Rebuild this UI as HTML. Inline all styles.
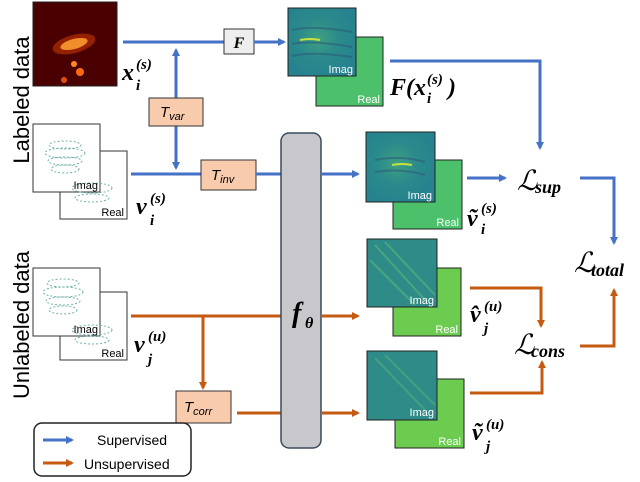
<!DOCTYPE html>
<html><head><meta charset="utf-8"><style>
html,body{margin:0;padding:0;background:#fff;}
svg{display:block;font-family:"Liberation Serif",serif;}
.m{font-family:"Liberation Serif",serif;font-style:italic;font-weight:bold;}
.s{font-family:"Liberation Sans",sans-serif;}
</style></head><body>
<svg width="640" height="482" viewBox="0 0 640 482" xmlns="http://www.w3.org/2000/svg">
<defs>
<marker id="ab" markerWidth="8" markerHeight="8" refX="6" refY="4" orient="auto" markerUnits="userSpaceOnUse"><path d="M0,0 L8,4 L0,8 Z" fill="#4472c4"/></marker>
<marker id="ao" markerWidth="8" markerHeight="8" refX="6" refY="4" orient="auto" markerUnits="userSpaceOnUse"><path d="M0,0 L8,4 L0,8 Z" fill="#c55a11"/></marker>
<radialGradient id="tl" cx="0.45" cy="0.45" r="0.6"><stop offset="0" stop-color="#3fa080"/><stop offset="0.5" stop-color="#2a8a8c"/><stop offset="1" stop-color="#26828e"/></radialGradient>
</defs>
<text class="s" x="0" y="0" font-size="22" transform="translate(29,100) rotate(-90)" text-anchor="middle">Labeled data</text>
<text class="s" x="0" y="0" font-size="22" transform="translate(29,325) rotate(-90)" text-anchor="middle">Unlabeled data</text>
<rect x="33" y="2" width="84" height="84" fill="#4a0000" stroke="#222"/>
<ellipse cx="74" cy="44" rx="14" ry="5" fill="#ffdd55" transform="rotate(-15 74 44)"/>
<ellipse cx="74" cy="44" rx="22" ry="9" fill="#e04000" opacity="0.5" transform="rotate(-15 74 44)"/>
<circle cx="74" cy="64" r="3" fill="#ff8a20"/><circle cx="80" cy="72" r="4" fill="#ff6a10"/><circle cx="64" cy="80" r="3" fill="#e05010"/>
<text class="m" x="122" y="80" font-size="24">x</text><text class="m" x="136" y="69" font-size="15">(s)</text><text class="m" x="136" y="90" font-size="15">i</text>
<line x1="123" y1="42" x2="224" y2="42" stroke="#4472c4" stroke-width="3"/>
<rect x="224" y="29" width="30" height="25" fill="#eeeeee" stroke="#333"/>
<text class="m" x="239" y="48" font-size="16" text-anchor="middle">F</text>
<line x1="254" y1="42" x2="284" y2="42" stroke="#4472c4" stroke-width="3" marker-end="url(#ab)"/>
<line x1="176" y1="98" x2="176" y2="50" stroke="#4472c4" stroke-width="3" marker-end="url(#ab)"/>
<line x1="176" y1="125" x2="176" y2="168" stroke="#4472c4" stroke-width="3" marker-end="url(#ab)"/>
<rect x="149" y="98" width="54" height="28" fill="#f8cbad" stroke="#333"/>
<text class="s" x="160" y="117" font-size="15" font-style="italic">T<tspan font-size="11" dy="3">var</tspan></text>
<rect x="60" y="151" width="67" height="68" fill="#fff" stroke="#333"/>
<text class="s" x="124" y="216" font-size="11" text-anchor="end">Real</text>
<rect x="33" y="124" width="67" height="68" fill="#fff" stroke="#333"/>
<g fill="none" stroke="#6fb0a8" stroke-width="1" stroke-dasharray="2 2">
<ellipse cx="65" cy="145" rx="16" ry="4"/><ellipse cx="65" cy="153" rx="20" ry="5"/><ellipse cx="65" cy="161" rx="17" ry="4"/><ellipse cx="65" cy="169" rx="14" ry="4"/>
<ellipse cx="92" cy="188" rx="20" ry="5"/><ellipse cx="92" cy="198" rx="17" ry="4"/></g>
<text class="s" x="98" y="189" font-size="11" text-anchor="end">Imag</text>
<text class="m" x="136" y="214" font-size="24">v</text><text class="m" x="150" y="203" font-size="15">(s)</text><text class="m" x="150" y="225" font-size="15">i</text>
<line x1="131" y1="174" x2="201" y2="174" stroke="#4472c4" stroke-width="3"/>
<rect x="201" y="160" width="55" height="30" fill="#f8cbad" stroke="#333"/>
<text class="s" x="211" y="180" font-size="15" font-style="italic">T<tspan font-size="11" dy="3">inv</tspan></text>
<line x1="256" y1="174" x2="282" y2="174" stroke="#4472c4" stroke-width="3"/>
<line x1="322" y1="174" x2="358" y2="174" stroke="#4472c4" stroke-width="3" marker-end="url(#ab)"/>
<rect x="60" y="292" width="67" height="68" fill="#fff" stroke="#333"/>
<text class="s" x="124" y="357" font-size="11" text-anchor="end">Real</text>
<rect x="33" y="268" width="67" height="68" fill="#fff" stroke="#333"/>
<g fill="none" stroke="#6fb0a8" stroke-width="1" stroke-dasharray="2 2">
<ellipse cx="63" cy="283" rx="16" ry="4"/><ellipse cx="63" cy="292" rx="20" ry="5"/><ellipse cx="63" cy="301" rx="17" ry="4"/><ellipse cx="63" cy="310" rx="14" ry="4"/>
<ellipse cx="92" cy="330" rx="20" ry="5"/><ellipse cx="92" cy="340" rx="17" ry="4"/></g>
<text class="s" x="98" y="333" font-size="11" text-anchor="end">Imag</text>
<text class="m" x="134" y="352" font-size="24">v</text><text class="m" x="148" y="341" font-size="15">(u)</text><text class="m" x="148" y="364" font-size="15">j</text>
<line x1="131" y1="316" x2="282" y2="316" stroke="#c55a11" stroke-width="3"/>
<line x1="322" y1="316" x2="358" y2="316" stroke="#c55a11" stroke-width="3" marker-end="url(#ao)"/>
<line x1="203" y1="316" x2="203" y2="388" stroke="#c55a11" stroke-width="3" marker-end="url(#ao)"/>
<rect x="176" y="391" width="55" height="32" fill="#f8cbad" stroke="#333"/>
<text class="s" x="184" y="412" font-size="15" font-style="italic">T<tspan font-size="11" dy="3">corr</tspan></text>
<line x1="237" y1="413" x2="282" y2="413" stroke="#c55a11" stroke-width="3"/>
<line x1="322" y1="413" x2="358" y2="413" stroke="#c55a11" stroke-width="3" marker-end="url(#ao)"/>
<rect x="281" y="133" width="40" height="315" rx="8" fill="#c8c8cc" stroke="#3a4a5e" stroke-width="1.5"/>
<text class="m" x="292" y="322" font-size="28">f</text><text class="m" x="305" y="328" font-size="16">θ</text>
<rect x="316" y="37" width="67" height="69" fill="#4cc06a" stroke="#222"/>
<text class="s" x="380" y="103" font-size="11" fill="#fff" text-anchor="end">Real</text>
<rect x="288" y="8" width="68" height="68" fill="url(#tl)" stroke="#222"/>
<g stroke="#2d5d7a" stroke-width="2" fill="none" opacity="0.6"><path d="M292 30 q20 -5 60 2"/><path d="M292 44 q20 -4 60 3"/><path d="M292 56 q20 -5 60 1"/></g>
<path d="M300 40 q10 -2 20 0" stroke="#c8e040" stroke-width="2"/>
<text class="s" x="353" y="73" font-size="11" fill="#fff" text-anchor="end">Imag</text>
<text class="m" x="390" y="95" font-size="24">F(</text><text class="m" x="414" y="95" font-size="24">x</text><text class="m" x="427" y="84" font-size="15">(s)</text><text class="m" x="427" y="103" font-size="15">i</text><text class="m" x="448" y="95" font-size="24">)</text>
<polyline points="390,61 540,61 540,148" fill="none" stroke="#4472c4" stroke-width="3" marker-end="url(#ab)"/>
<rect x="393" y="160" width="69" height="69" fill="#4cc06a" stroke="#222"/>
<text class="s" x="459" y="226" font-size="11" fill="#fff" text-anchor="end">Real</text>
<rect x="366" y="132" width="69" height="70" fill="url(#tl)" stroke="#222"/>
<g stroke="#2d5d7a" stroke-width="2" fill="none" opacity="0.6"><path d="M375 160 q25 -5 50 2"/><path d="M375 172 q25 -4 50 3"/></g>
<path d="M392 165 q10 -2 20 0" stroke="#c8e040" stroke-width="2"/>
<text class="s" x="432" y="199" font-size="11" fill="#fff" text-anchor="end">Imag</text>
<text class="m" x="467" y="226" font-size="24">ṽ</text><text class="m" x="481" y="213" font-size="15">(s)</text><text class="m" x="481" y="234" font-size="15">i</text>
<line x1="467" y1="178" x2="505" y2="178" stroke="#4472c4" stroke-width="3" marker-end="url(#ab)"/>
<text x="517" y="190" font-size="28" font-style="italic">ℒ</text><text class="m" x="535" y="193" font-size="18">sup</text>
<polyline points="580,178 614,178 614,243" fill="none" stroke="#4472c4" stroke-width="3" marker-end="url(#ab)"/>
<text x="574" y="272" font-size="28" font-style="italic">ℒ</text><text class="m" x="591" y="276" font-size="18">total</text>
<rect x="393" y="268" width="68" height="68" fill="#6ccc50" stroke="#222"/>
<text class="s" x="458" y="333" font-size="11" fill="#fff" text-anchor="end">Real</text>
<rect x="367" y="239" width="70" height="68" fill="#2e8b88" stroke="#222"/>
<g stroke="#5ab878" stroke-width="2" opacity="0.6"><line x1="375" y1="245" x2="425" y2="300"/><line x1="385" y1="242" x2="435" y2="295"/><line x1="370" y1="260" x2="415" y2="305"/></g>
<text class="s" x="434" y="304" font-size="11" fill="#fff" text-anchor="end">Imag</text>
<text class="m" x="470" y="322" font-size="24">v̂</text><text class="m" x="484" y="311" font-size="15">(u)</text><text class="m" x="484" y="333" font-size="15">j</text>
<rect x="395" y="379" width="69" height="69" fill="#6ccc50" stroke="#222"/>
<text class="s" x="461" y="445" font-size="11" fill="#fff" text-anchor="end">Real</text>
<rect x="367" y="351" width="70" height="69" fill="#2e8b88" stroke="#222"/>
<g stroke="#5ab878" stroke-width="2" opacity="0.5"><line x1="375" y1="358" x2="425" y2="410"/><line x1="385" y1="355" x2="435" y2="405"/></g>
<text class="s" x="434" y="416" font-size="11" fill="#fff" text-anchor="end">Imag</text>
<text class="m" x="472" y="440" font-size="24">ṽ</text><text class="m" x="486" y="429" font-size="15">(u)</text><text class="m" x="486" y="451" font-size="15">j</text>
<polyline points="470,288 541,288 541,326" fill="none" stroke="#c55a11" stroke-width="3" marker-end="url(#ao)"/>
<polyline points="470,393 542,393 542,362" fill="none" stroke="#c55a11" stroke-width="3" marker-end="url(#ao)"/>
<text x="514" y="354" font-size="28" font-style="italic">ℒ</text><text class="m" x="531" y="357" font-size="18">cons</text>
<polyline points="580,346 614,346 614,290" fill="none" stroke="#c55a11" stroke-width="3" marker-end="url(#ao)"/>
<rect x="34" y="423" width="157" height="53" rx="8" fill="#fff" stroke="#222" stroke-width="1.5"/>
<line x1="43" y1="440" x2="72" y2="440" stroke="#4472c4" stroke-width="3" marker-end="url(#ab)"/>
<text class="s" x="97" y="445" font-size="14">Supervised</text>
<line x1="43" y1="463" x2="72" y2="463" stroke="#c55a11" stroke-width="3" marker-end="url(#ao)"/>
<text class="s" x="84" y="469" font-size="14">Unsupervised</text>
</svg>
</body></html>
